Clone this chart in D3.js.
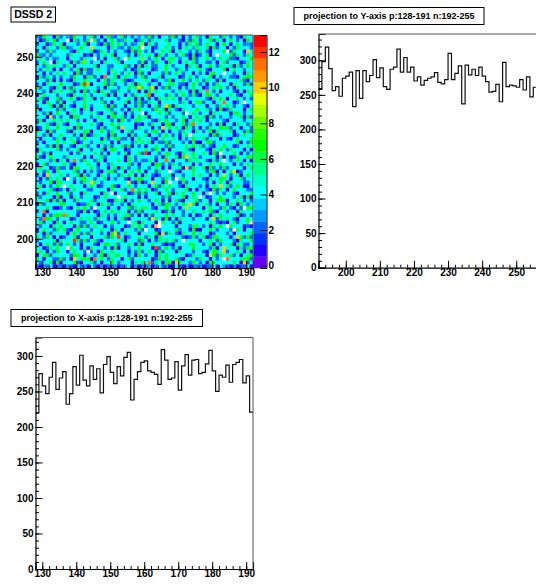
<!DOCTYPE html>
<html>
<head>
<meta charset="utf-8">
<script src="https://cdn.jsdelivr.net/npm/d3@7"></script>
<style>
  html, body { margin: 0; padding: 0; background: #fff; overflow: hidden; }
  svg { display: block; font: bold 10px "Liberation Sans", sans-serif; }
</style>
</head>
<body>
<div id="chart"></div>
<script>
// counts per bin, row 0 is n=255. Hand-typed approximation: these follow the overall
// colour mix of the picture, the individual cells were NOT read one by one
const mapRows = [
  "32744162 43274424 62414732 46242434 36241443 72414246 34164426 42421644",
  "41264724 44163427 46241474 23644136 42644462 44216274 24472641 46424174",
  "24413646 14442461 44217264 74242348 16424446 44142647 24644147 41464232",
  "44164426 62344744 24444164 32426474 44124464 24146436 44617244 14264442",
  "24426344 44216444 61264242 44216274 24144646 14644242 64214447 32644144",
  "63242444 42644412 14246461 44424164 46417424 42462161 24614444 47264264",
  "46424234 41444264 44241446 24164448 42474146 64244172 44642464 62214447",
  "24644164 44162684 24416444 61444426 14264417 44146462 44224146 24441264",
  "44264644 26414444 46144224 44724161 64224474 24441646 14474264 46162474",
  "42464141 44246172 24644264 44241264 44124464 42642444 64214447 14644244",
  "44142464 64417242 24444146 42464172 41444262 46424414 24167446 44244164",
  "16264242 44274416 62414446 14644247 24446144 44124642 44461424 42214676",
  "44426141 42164474 44146264 46212444 64124437 14474246 42644161 44446214",
  "24164447 44412648 14447262 44246174 42441446 64221474 24142644 41644272",
  "62442164 16264464 44241644 24474646 46414272 44142464 41246474 24164444",
  "44241646 44624172 46174422 64424414 17464444 24644161 64442414 44214164",
  "14644424 42164464 24446161 44142644 64144426 42474262 14764244 46421446",
  "46214472 44741264 61424444 24464161 42417464 64142444 44216474 14464242",
  "44174426 14424464 44462414 44614272 26441444 44264146 62441444 44124644",
  "24447161 64214474 24446172 44144262 41462447 16444424 44144264 64244214",
  "61444426 24464164 14444624 42416474 44274616 42164447 44624171 26444146",
  "44261474 41644244 64214462 44142446 14446462 44421464 24416444 41674244",
  "44416242 44176444 24644167 46241474 61444424 24464146 46172424 42446172",
  "26144646 46442414 41464424 17424664 44216474 42471464 64144442 14444244",
  "44462164 21446444 64214474 64444121 42644167 14462644 44424161 44164426",
  "12464474 46417244 44162446 24444164 44142446 46417424 14264476 62441442",
  "64417244 42164476 14474264 41462444 24674141 44264416 42471644 46144272",
  "44261446 44424161 26444172 44416244 61442474 24146444 44417264 44124644",
  "41444264 14642474 44416246 62241474 44214644 64142474 46244414 21464446",
  "24144464 64471244 24464414 14442646 46142272 44424161 14672444 44461427",
  "44426171 44214462 44142624 46271424 14464427 24446474 62421447 44124464",
  "16444462 42446144 24461476 44124444 64274141 44446214 44216474 26444141",
  "44261444 44142644 46424144 24614472 41442466 42164474 46417244 44641424",
  "62147444 26444414 14462444 44164244 44424164 46172464 24444161 41264476",
  "44442616 41464274 42641444 64174242 26414474 14442646 44216244 42464141",
  "14624444 64214446 44144264 44462414 44176242 64244414 24464474 44142464",
  "46441272 24176444 64244146 16424424 42464141 44614274 46172426 24444146",
  "44274164 44462414 24214672 44146474 14426446 42144464 44267141 46412444",
  "24164446 42447162 44164244 26474141 64212446 14424464 64414244 42461474",
  "41426464 16424674 42446142 44214676 44144264 26474414 42164476 41446244",
  "42447166 44414264 16424444 44442161 24644172 44162444 44241464 16444224",
  "46142474 24644414 64124472 14464244 41472646 44216444 24146444 62474114",
  "44446212 41464442 24444164 46241474 64124464 24446141 44217264 14644422",
  "24164474 46244174 44416421 44412626 24461447 16464474 41464242 44214446",
  "62444171 44164244 41246444 24644414 14444262 44471464 64124474 44246171",
  "44471626 14426444 62444117 46142474 42464141 46214447 24414676 14464242",
  "16244447 64441227 44174624 42416444 44146276 42474161 44624144 26417424",
  "44464112 42146474 26444144 14472646 64214474 24146444 41464427 42142667",
  "24614444 44442161 41246474 64414272 44464126 14424464 46472144 24416444",
  "44142676 26441444 44164242 44672414 16244474 64424141 24416474 44461242",
  "42476424 44124646 42644141 46214444 42464171 41644424 44144264 64214474",
  "46244174 14644224 64124474 24444616 44412644 26144444 44464212 14624467",
  "42441646 44416272 46441424 44126474 24167444 41444266 42416474 46444121",
  "14644274 62147444 24464416 41444262 64412444 46244171 14474244 42464144",
  "44162444 41474262 64424171 24644414 44471626 42164474 64412444 24144446",
  "64274141 24461444 14446274 44124464 26417444 44421262 46127644 41446272",
  "24444616 44416272 46214444 46144427 41426474 62414444 14464274 44216446",
  "41464272 46424144 42147646 24464171 44644212 14444664 42461424 46174224",
  "44126464 42644141 64442417 14424464 44162474 26144474 44426141 44416276",
  "46414274 41464426 24174464 44414262 46417244 41644424 42147644 24464141",
  "14672444 44276414 42471646 64424174 24416474 44441264 44147264 46241467",
  "64144227 24144676 14464264 41462444 44127464 46214442 64414242 14446672",
  "42446171 44462144 62414474 24441646 44264167 14644274 24176444 44641424",
  "21324122 13214231 42131223 12341312 23124231 14213122 31224143 21312241"
];

// cells that stand out, located on the picture: empty (white) ones and the high counts, [row, col, count]
const hotCells = [
  [1,9,0],[1,16,0],[3,16,10],[3,31,0],[4,56,0],[4,62,10],[5,53,0],[6,17,0],[6,26,0],[7,4,0],
  [10,55,0],[11,20,11],[13,14,12],[14,30,10],[14,34,10],[15,50,11],[16,33,11],[18,55,11],[18,61,0],
  [19,38,10],[21,31,0],[21,44,0],[22,4,10],[24,46,11],[25,37,10],[25,25,10],[27,45,0],
  [32,32,12],[32,54,0],[33,44,10],[34,38,11],[34,11,11],[34,55,0],[36,44,10],[37,39,0],[37,58,10],
  [38,3,10],[38,55,9],[39,9,0],[39,41,0],[40,16,10],[40,27,10],[40,34,10],[40,39,0],[41,8,0],[41,54,10],
  [42,28,11],[43,22,0],[43,51,0],[44,24,0],[44,48,0],[46,45,10],[47,17,0],[47,44,9],[47,61,0],
  [48,2,11],[49,8,11],[50,2,11],[50,34,10],[50,52,10],[51,27,0],[51,36,0],[51,63,0],
  [52,35,10],[52,36,0],[52,56,0],[53,32,0],[53,58,0],[54,23,10],[54,37,10],[55,24,12],[55,59,10],
  [56,11,12],[56,43,0],[58,9,0],[58,35,12],[58,55,10],[59,15,0],[59,55,10],[60,51,9],
  [61,11,10],[61,17,11],[61,55,0],[61,56,11],[62,33,11],[62,41,10],[62,61,10]
];

const palette = ["#6600ff","#2200ff","#0033ff","#0066ff","#0099ff","#00ccff","#00ffff","#00ffcc","#00ff88","#00ff44",
  "#00ff00","#22ff00","#66ff00","#aaff00","#e6ff00","#ffcc00","#ff9900","#ff7000","#ff3300","#ff0000"];

// projection to Y-axis, bins 192-255
const projY = [258,298,319,288,256,262,248,274,277,283,233,285,245,285,269,278,301,275,289,262,258,287,290,316,283,304,283,290,270,276,264,271,
  274,276,282,268,266,272,310,272,281,292,237,293,279,287,278,290,277,269,254,255,265,240,297,262,264,263,261,272,257,276,247,261];
// projection to X-axis, bins 128-191
const projX = [220,275,258,247,270,291,253,269,278,232,247,285,259,301,266,258,286,267,282,248,288,299,277,261,285,272,298,305,238,267,278,291,
  293,279,277,274,260,309,294,267,269,292,252,286,302,273,294,295,275,277,289,308,279,250,273,270,287,263,288,291,295,262,272,221];

const xTicks = [130,140,150,160,170,180,190];
const yTicks = [200,210,220,230,240,250];
const countTicks = [0,50,100,150,200,250,300];
const zTicks = [0,2,4,6,8,10,12];

const titleMap = "DSSD 2";
const titleY = "projection to Y-axis p:128-191 n:192-255";
const titleX = "projection to X-axis p:128-191 n:192-255";

const svg = d3.select("#chart").append("svg").attr("width", 536).attr("height", 585);

// tick steps go inside the frame like in ROOT
function drawAxes(g, x, y, xMajor, yMajor, xStep, yStep) {
  const xMinor = d3.range(x.domain()[0], x.domain()[1] + 0.01, xStep);
  const yMinor = d3.range(y.domain()[0], y.domain()[1] + 0.01, yStep);
  const bottom = y.range()[0], left = x.range()[0];

  g.append("g").attr("transform", `translate(0,${bottom})`)
    .call(d3.axisBottom(x).tickValues(xMinor).tickSize(-3).tickFormat(""))
    .call(a => a.select(".domain").remove());
  g.append("g").attr("transform", `translate(${left},0)`)
    .call(d3.axisLeft(y).tickValues(yMinor).tickSize(-3.5).tickFormat(""))
    .call(a => a.select(".domain").remove());
  g.append("g").attr("transform", `translate(0,${bottom})`)
    .call(d3.axisBottom(x).tickValues(xMajor).tickSize(-7).tickPadding(1).tickFormat(d3.format("d")));
  g.append("g").attr("transform", `translate(${left},0)`)
    .call(d3.axisLeft(y).tickValues(yMajor).tickSize(-7).tickPadding(2).tickFormat(d3.format("d")));

  g.selectAll(".domain").attr("stroke", "#000").attr("stroke-width", 1.2);
  g.selectAll(".tick line").attr("stroke", "#000").attr("stroke-width", 1);
  g.selectAll(".tick text").attr("fill", "#000")
    .style("font", 'bold 10px "Liberation Sans", sans-serif');

  // thin grey top and right sides of the frame
  g.append("path")
    .attr("d", d3.line()([[left, y.range()[1]], [x.range()[1], y.range()[1]], [x.range()[1], bottom]]))
    .attr("fill", "none").attr("stroke", "#555").attr("stroke-width", 1);
}

function titleBox(x0, y0, w, h, label, size) {
  svg.append("rect")
    .attr("x", x0).attr("y", y0).attr("width", w).attr("height", h)
    .attr("fill", "#fff").attr("stroke", "#000");
  svg.append("text")
    .attr("x", x0 + w / 2).attr("y", y0 + h / 2 + size * 0.36)
    .attr("text-anchor", "middle")
    .style("font-size", size + "px")
    .text(label);
}

function drawHist(values, firstBin, xRange, yRange, yMax, xMajor) {
  const x = d3.scaleLinear().domain([firstBin, firstBin + 64]).range(xRange);
  const y = d3.scaleLinear().domain([0, yMax]).range(yRange);
  const g = svg.append("g");
  const pts = values.map((v, i) => [firstBin + i, v]);
  pts.push([firstBin + values.length, values[values.length - 1]]);

  g.append("path")
    .attr("d", d3.line().x(d => x(d[0])).y(d => y(d[1])).curve(d3.curveStepAfter)(pts))
    .attr("fill", "none").attr("stroke", "#111").attr("stroke-width", 1.2);

  drawAxes(g, x, y, xMajor, countTicks, 2, 10);
}

// map
const mapX = d3.scaleLinear().domain([128, 192]).range([35.5, 253]);
const mapY = d3.scaleLinear().domain([192, 256]).range([268, 35]);
const zScale = d3.scaleLinear().domain([-0.13, 12.96]).range([268, 35]);
const zColor = d3.scaleQuantize().domain(zScale.domain()).range(palette);

const counts = mapRows.map(r => r.replace(/ /g, "").split("").map(Number));
hotCells.forEach(([r, c, v]) => { counts[r][c] = v; });

const cells = [];
counts.forEach((row, r) => row.forEach((v, c) => cells.push({ px: 128 + c, py: 255 - r, v })));

const mapG = svg.append("g");
mapG.append("g").selectAll("rect")
  .data(cells)
  .join("rect")
  .attr("x", d => mapX(d.px))
  .attr("y", d => mapY(d.py + 1))
  .attr("width", d => mapX(d.px + 1) - mapX(d.px) + 0.3)
  .attr("height", d => mapY(d.py) - mapY(d.py + 1) + 0.3)
  .attr("fill", d => d.v === 0 ? "#fff" : zColor(d.v));
drawAxes(mapG, mapX, mapY, xTicks, yTicks, 2, 2);

// colour bar
const barG = svg.append("g");
barG.selectAll("rect")
  .data(palette)
  .join("rect")
  .attr("x", 253.5)
  .attr("width", 13)
  .attr("y", d => zScale(zColor.invertExtent(d)[1]))
  .attr("height", d => zScale(zColor.invertExtent(d)[0]) - zScale(zColor.invertExtent(d)[1]) + 0.3)
  .attr("fill", d => d);
barG.append("g").attr("transform", "translate(266.5,0)")
  .call(d3.axisRight(zScale).tickValues(zTicks).tickSize(-6).tickPadding(2).tickFormat(d3.format("d")))
  .call(a => a.selectAll(".tick text").attr("fill", "#000").style("font", 'bold 10px "Liberation Sans", sans-serif'))
  .call(a => a.selectAll(".tick line").attr("stroke", "#000"))
  .call(a => a.select(".domain").attr("stroke", "#000"));

drawHist(projY, 192, [318.5, 536.7], [267.7, 34], 338, yTicks);
drawHist(projX, 128, [35.5, 253], [569, 337.5], 326, xTicks);

titleBox(11, 7, 44.5, 15, titleMap, 10.5);
titleBox(294, 7.5, 190, 17, titleY, 9);
titleBox(11, 309.5, 191.5, 17, titleX, 9);
</script>
</body>
</html>
